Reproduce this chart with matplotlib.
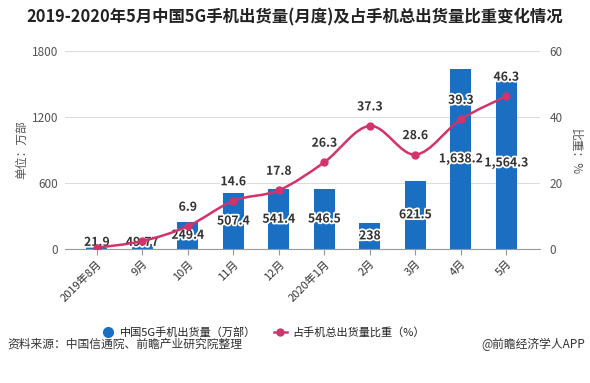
import matplotlib
matplotlib.use("Agg")
import matplotlib.pyplot as plt
import matplotlib.patheffects as pe
from matplotlib.path import Path
from matplotlib.patches import PathPatch
from matplotlib.lines import Line2D

plt.rcParams["font.family"] = ["Noto Sans CJK SC", "DejaVu Sans"]

months = ["2019年8月", "9月", "10月", "11月", "12月", "2020年1月", "2月", "3月", "4月", "5月"]
shipments = [21.9, 49.77, 249.4, 507.4, 541.4, 546.5, 238, 621.5, 1638.2, 1564.3]
shipment_labels = ["21.9", "49.77", "249.4", "507.4", "541.4", "546.5", "238", "621.5", "1,638.2", "1,564.3"]
share = [0.4, 2.4, 6.9, 14.6, 17.8, 26.3, 37.3, 28.6, 39.3, 46.3]
share_labels = [None, None, "6.9", "14.6", "17.8", "26.3", "37.3", "28.6", "39.3", "46.3"]

BLUE = "#1a6fc2"
RED = "#d3336b"
TXT = "#333333"
GRID = "#dcdcdc"


def smooth_path(xs, ys, t=0.5):
    # catmull-rom style bezier segments through the points
    verts = [(xs[0], ys[0])]
    codes = [Path.MOVETO]
    n = len(xs)
    for i in range(n - 1):
        x0, y0 = xs[max(i - 1, 0)], ys[max(i - 1, 0)]
        x1, y1 = xs[i], ys[i]
        x2, y2 = xs[i + 1], ys[i + 1]
        x3, y3 = xs[min(i + 2, n - 1)], ys[min(i + 2, n - 1)]
        c1 = (x1 + (x2 - x0) * t / 3, y1 + (y2 - y0) * t / 3)
        c2 = (x2 - (x3 - x1) * t / 3, y2 - (y3 - y1) * t / 3)
        verts += [c1, c2, (x2, y2)]
        codes += [Path.CURVE4] * 3
    return Path(verts, codes)


fig = plt.figure(figsize=(5.9, 3.83), dpi=100)
ax = fig.add_axes([65 / 590, 1 - 249 / 383, 475 / 590, 198 / 383])
ax2 = ax.twinx()

x = list(range(len(months)))
ax.bar(x, shipments, width=0.46, color=BLUE, zorder=2)

ax.set_xlim(-0.7, 9.74)
ax.set_ylim(0, 1800)
ax.set_yticks([0, 600, 1200, 1800])
ax.grid(axis="y", color=GRID, linewidth=0.8, zorder=0)
ax.set_axisbelow(True)
for s in ["top", "left", "right"]:
    ax.spines[s].set_visible(False)
    ax2.spines[s].set_visible(False)
ax.spines["bottom"].set_color("#999999")
ax2.spines["bottom"].set_visible(False)
ax.set_xticks(x)
ax.set_xticklabels(months, rotation=45, ha="right", rotation_mode="anchor", fontsize=8, color=TXT)
ax.tick_params(axis="x", length=4, color="#999999", pad=3)
ax.tick_params(axis="y", length=0, labelsize=8.5, labelcolor="#555555", pad=5)

ax2.set_ylim(0, 60)
ax2.set_yticks([0, 20, 40, 60])
ax2.tick_params(axis="y", length=0, labelsize=8.5, labelcolor="#555555", pad=7)

ax2.add_patch(PathPatch(smooth_path(x, share), facecolor="none", edgecolor=RED, linewidth=1.8, zorder=3))
ax2.plot(x, share, "o", color=RED, markersize=5, zorder=4)

stroke = [pe.withStroke(linewidth=2.5, foreground="white")]
for xi, v, lab in zip(x, shipments, shipment_labels):
    ax.text(xi, max(v / 2, 60), lab, ha="center", va="center", fontsize=8.8,
            fontweight="bold", color=TXT, path_effects=stroke, zorder=5)
for xi, v, lab in zip(x, share, share_labels):
    if lab:
        ax2.annotate(lab, (xi, v), xytext=(0, 9), textcoords="offset points", ha="center",
                     va="bottom", fontsize=8.8, fontweight="bold", color=TXT,
                     path_effects=stroke, zorder=6)

fig.text(22 / 590, 1 - 150 / 383, "单位：万部", rotation=90, ha="center", va="center",
         fontsize=8.5, color="#555555")
fig.text(576 / 590, 1 - 152 / 383, "比重：%", rotation=270, ha="center", va="center",
         fontsize=8.5, color="#555555")

fig.text(0.5, 1 - 17 / 383, "2019-2020年5月中国5G手机出货量(月度)及占手机总出货量比重变化情况",
         ha="center", va="center", fontsize=11.8, fontweight="bold", color="#222222")

handles = [
    Line2D([], [], marker="o", linestyle="none", color=BLUE, markersize=7),
    Line2D([], [], marker="o", color=RED, markersize=5, linewidth=1.8),
]
fig.legend(handles, ["中国5G手机出货量（万部）", "占手机总出货量比重（%）"], loc="center",
           bbox_to_anchor=(263 / 590, 1 - 332 / 383), ncol=2, frameon=False, fontsize=8,
           handlelength=1.2, columnspacing=1.6, handletextpad=0.5,
           labelcolor="#222222")

fig.text(7 / 590, 1 - 344 / 383, "资料来源：中国信通院、前瞻产业研究院整理", ha="left", va="center",
         fontsize=8.5, color="#333333")
fig.text(585 / 590, 1 - 344 / 383, "@前瞻经济学人APP", ha="right", va="center",
         fontsize=8.5, color="#333333")

fig.savefig("out.png", dpi=100)
